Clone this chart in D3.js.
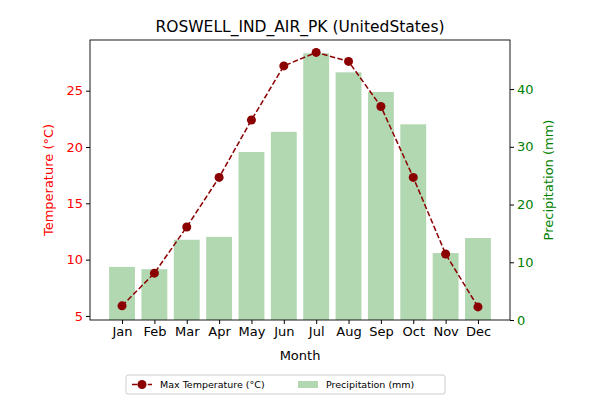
<!DOCTYPE html>
<html><head><meta charset="utf-8">
<script src="https://cdn.jsdelivr.net/npm/d3@7"></script>
<style>body{margin:0;background:#fff}text{font-family:"DejaVu Sans",sans-serif}</style>
</head><body><svg id="c" width="600" height="400"></svg>
<script>
var months = ["Jan","Feb","Mar","Apr","May","Jun","Jul","Aug","Sep","Oct","Nov","Dec"];
var maxTemp = [5.9, 8.8, 12.9, 17.3, 22.4, 27.2, 28.4, 27.6, 23.6, 17.3, 10.5, 5.8];
var precip = [9.2, 8.8, 13.9, 14.4, 29.1, 32.6, 46.2, 42.9, 39.5, 33.9, 11.6, 14.2];
var tempTicks = [5, 10, 15, 20, 25];
var precipTicks = [0, 10, 20, 30, 40];

var svg = d3.select("#c");
var L = 90, R = 510, T = 40, B = 320;
var x = d3.scaleLinear().domain([-0.99, 11.99]).range([L, R]);
var yT = d3.scaleLinear().domain([4.64, 29.5]).range([B, T]);
var yP = d3.scaleLinear().domain([0, 48.5]).range([B, T]);
var bw = 0.8 * (x(1) - x(0));

svg.selectAll(".bar").data(precip).enter().append("rect")
  .attr("x", function(d, i){ return x(i) - bw/2; })
  .attr("y", function(d){ return yP(d); })
  .attr("width", bw)
  .attr("height", function(d){ return B - yP(d); })
  .attr("fill", "#b2d8b2");

var line = d3.line().x(function(d, i){ return x(i); }).y(function(d){ return yT(d); });
svg.append("path").datum(maxTemp).attr("d", line)
  .attr("fill", "none").attr("stroke", "#8b0000").attr("stroke-width", 1.5).attr("stroke-dasharray", "5.5,2.4");
svg.selectAll(".pt").data(maxTemp).enter().append("circle")
  .attr("cx", function(d, i){ return x(i); }).attr("cy", function(d){ return yT(d); })
  .attr("r", 4.5).attr("fill", "#8b0000");

svg.append("rect").attr("x", L).attr("y", T).attr("width", R-L).attr("height", B-T)
  .attr("fill", "none").attr("stroke", "#000").attr("stroke-width", 0.9);

var gx = svg.append("g").attr("transform", "translate(0," + B + ")")
  .call(d3.axisBottom(x).tickValues(d3.range(12)).tickFormat(function(i){ return months[i]; }).tickSize(4).tickSizeOuter(0));
var gl = svg.append("g").attr("transform", "translate(" + L + ",0)")
  .call(d3.axisLeft(yT).tickValues(tempTicks).tickSize(4).tickSizeOuter(0));
var gr = svg.append("g").attr("transform", "translate(" + R + ",0)")
  .call(d3.axisRight(yP).tickValues(precipTicks).tickSize(4).tickSizeOuter(0));
[gx, gl, gr].forEach(function(g){
  g.select(".domain").remove();
  g.selectAll("text").attr("font-size", 13).style("font-family", "DejaVu Sans");
});
gl.selectAll("text").attr("fill", "red");
gl.selectAll("line").attr("stroke", "#000");
gr.selectAll("text").attr("fill", "green");

svg.append("text").attr("x", 300).attr("y", 32).attr("text-anchor", "middle").attr("font-size", 15.5).text("ROSWELL_IND_AIR_PK (UnitedStates)");
svg.append("text").attr("x", 300).attr("y", 360).attr("text-anchor", "middle").attr("font-size", 13).text("Month");
svg.append("text").attr("transform", "translate(53,180) rotate(-90)").attr("text-anchor", "middle").attr("font-size", 13).attr("fill", "red").text("Temperature (°C)");
svg.append("text").attr("transform", "translate(553,180) rotate(-90)").attr("text-anchor", "middle").attr("font-size", 13).attr("fill", "green").text("Precipitation (mm)");

var lg = svg.append("g");
lg.append("rect").attr("x", 126).attr("y", 375).attr("width", 319).attr("height", 19).attr("rx", 2)
  .attr("fill", "#fff").attr("stroke", "#ccc");
lg.append("line").attr("x1", 132).attr("x2", 152).attr("y1", 384.5).attr("y2", 384.5)
  .attr("stroke", "#8b0000").attr("stroke-width", 1.5).attr("stroke-dasharray", "5.5,2.4");
lg.append("circle").attr("cx", 142).attr("cy", 384.5).attr("r", 4.5).attr("fill", "#8b0000");
lg.append("text").attr("x", 160).attr("y", 388).attr("font-size", 9.5).text("Max Temperature (°C)");
lg.append("rect").attr("x", 298).attr("y", 381).attr("width", 20).attr("height", 7).attr("fill", "#b2d8b2");
lg.append("text").attr("x", 326).attr("y", 388).attr("font-size", 9.5).text("Precipitation (mm)");
</script></body></html>
